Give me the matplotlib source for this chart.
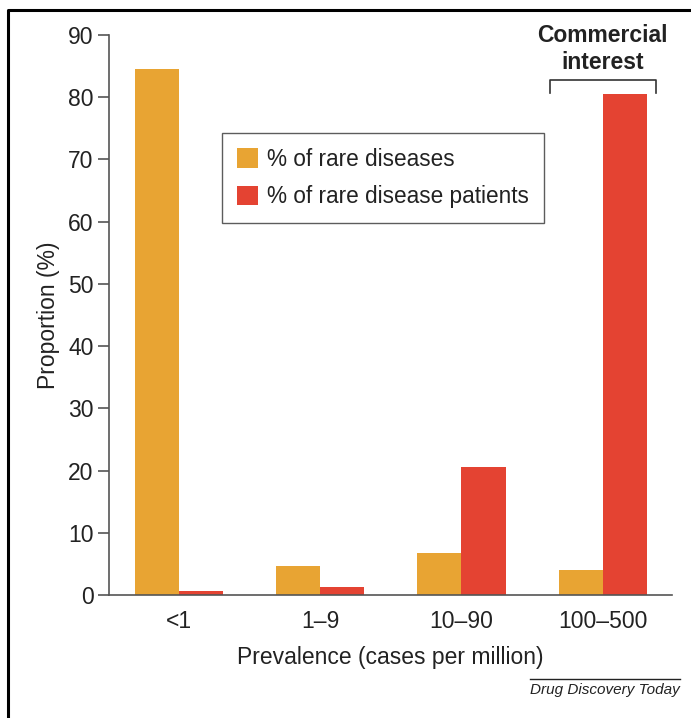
import numpy as np
import matplotlib
matplotlib.use("Agg")
import matplotlib.pyplot as plt
from matplotlib.lines import Line2D

plt.rcParams['font.family'] = ['Liberation Sans', 'DejaVu Sans']

# --- data ---
categories = ["<1", "1\u20139", "10\u201390", "100\u2013500"]
pct_diseases = [84.6, 4.7, 6.8, 4.0]
pct_patients = [0.6, 1.3, 20.6, 80.5]
series_names = ["% of rare diseases", "% of rare disease patients"]

ORANGE = "#E8A433"
RED = "#E44332"
TXT = "#222222"
AX = "#555555"
FS = 16.5

fig = plt.figure(figsize=(6.91, 7.18), dpi=100)
ax = fig.add_axes([109 / 691, 1 - 595 / 718, 563 / 691, 560 / 718])

x = np.arange(len(categories))
w = 0.312
ax.bar(x - w / 2, pct_diseases, w, color=ORANGE, label=series_names[0])
ax.bar(x + w / 2, pct_patients, w, color=RED, label=series_names[1])

ax.set_xlim(-0.495, 3.49)
ax.set_ylim(0, 90)
ax.set_yticks(range(0, 91, 10))
ax.set_xticks(x)
ax.set_xticklabels(categories)
ax.tick_params(axis='y', length=8, width=1.2, color=AX, labelsize=FS, labelcolor=TXT, pad=3)
ax.tick_params(axis='x', length=0, labelsize=FS, labelcolor=TXT, pad=11)

for s in ['top', 'right']:
    ax.spines[s].set_visible(False)
for s in ['left', 'bottom']:
    ax.spines[s].set_color(AX)
    ax.spines[s].set_linewidth(1.2)

ax.set_xlabel("Prevalence (cases per million)", fontsize=FS, color=TXT, labelpad=9)
ax.set_ylabel("Proportion (%)", fontsize=FS, color=TXT, labelpad=6)

leg = ax.legend(loc='upper left', bbox_to_anchor=((222 - 109) / 563, (595 - 133) / 560),
                fontsize=FS - 0.2, frameon=True, fancybox=False, handlelength=0.95,
                handleheight=0.95, handletextpad=0.4, labelspacing=0.65,
                borderpad=0.65, borderaxespad=0)
leg.get_frame().set_edgecolor("#333333")
leg.get_frame().set_linewidth(1.0)
for t in leg.get_texts():
    t.set_color(TXT)

# bracket over the 100-500 group
bx0, bx1 = x[3] - 0.375, x[3] + 0.375
ax.plot([bx0, bx0, bx1, bx1], [80.7, 82.8, 82.8, 80.7], color="#333333", lw=1.2,
        clip_on=False)
ax.text(x[3], 83.7, "Commercial\ninterest", ha='center', va='bottom', fontsize=FS,
        fontweight='bold', color=TXT, linespacing=1.25)

# source note
fig.text(680 / 691, 1 - 690 / 718, "Drug Discovery Today", ha='right', va='center',
         fontsize=11, style='italic', color=TXT)
fig.add_artist(Line2D([530 / 691, 680 / 691], [1 - 679 / 718] * 2, color="#222222", lw=1.0))

# page frame (left and top only)
fig.add_artist(Line2D([8 / 691, 8 / 691, 1.0], [0.0, 1 - 10 / 718, 1 - 10 / 718],
                      color="black", lw=2.2))

fig.savefig("out.png", dpi=100)
